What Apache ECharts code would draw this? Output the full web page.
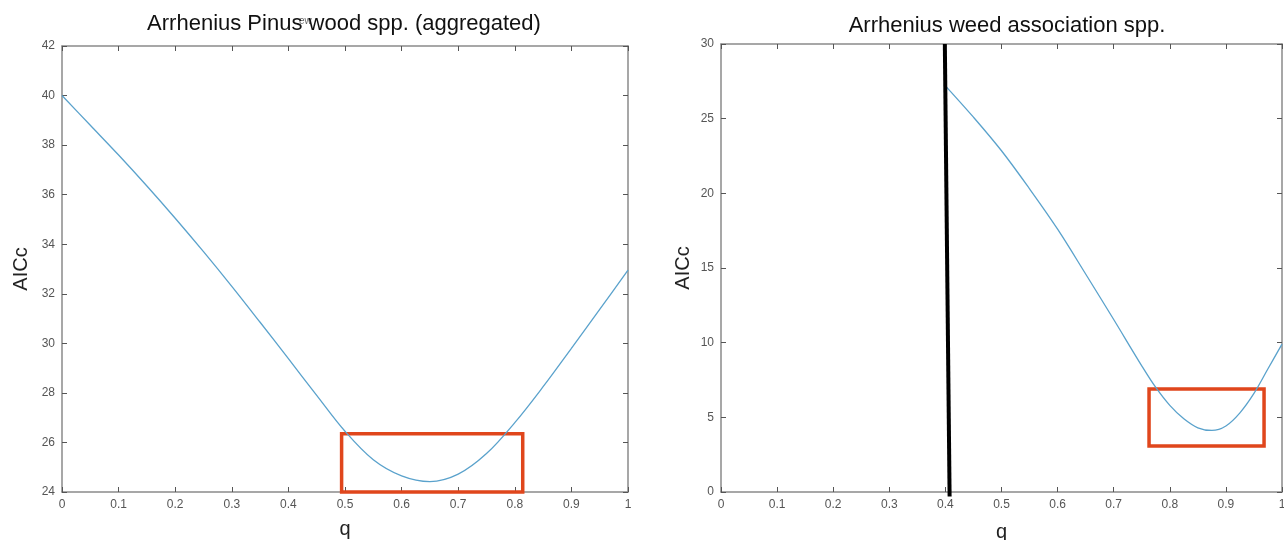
<!DOCTYPE html>
<html>
<head>
<meta charset="utf-8">
<script src="https://cdn.jsdelivr.net/npm/echarts@6/dist/echarts.min.js"></script>
<style>
html, body { margin: 0; padding: 0; background: #fff; }
#main { width: 1284px; height: 540px; }
</style>
</head>
<body>
<div id="main"></div>
<script>
// left panel: Pinus wood (aggregated)
var qLeft = [0, 0.05, 0.1, 0.15, 0.2, 0.25, 0.3, 0.35, 0.4, 0.45, 0.5, 0.55, 0.6, 0.65, 0.7, 0.75, 0.8, 0.85, 0.9, 0.95, 1.0];
var aiccLeft = [40.0, 38.8, 37.6, 36.35, 35.05, 33.7, 32.3, 30.85, 29.38, 27.9, 26.45, 25.3, 24.65, 24.42, 24.72, 25.55, 26.8, 28.25, 29.8, 31.37, 32.95];
// right panel: weed association
var qRight = [0.4, 0.45, 0.5, 0.55, 0.6, 0.65, 0.7, 0.75, 0.775, 0.8, 0.825, 0.85, 0.875, 0.9, 0.925, 0.95, 0.975, 1.0];
var aiccRight = [27.2, 25.1, 22.85, 20.3, 17.6, 14.6, 11.55, 8.45, 7.0, 5.8, 4.9, 4.3, 4.12, 4.42, 5.3, 6.6, 8.25, 9.9];
// highlighted boxes [q1, aicc1, q2, aicc2]
var boxLeft = [0.494, 26.35, 0.814, 23.98];
var boxRight = [0.763, 6.9, 0.968, 3.08];
// vertical cut line in right panel
var cutLine = [[0.399, 30], [0.4075, -0.3]];

var font = 'Liberation Sans, Arial, Helvetica, sans-serif';
var axisGray = '#8a8a8a';
var curveColor = '#5aa2cc';
var boxColor = '#e0461c';

function zip(xs, ys) {
    var out = [];
    for (var i = 0; i < xs.length; i++) out.push([xs[i], ys[i]]);
    return out;
}

function qLabel(v) {
    if (v === 0) return '0';
    if (v === 1) return '1';
    return v.toFixed(1);
}

function xAxisPair(grid, nameGap) {
    return [{
        type: 'value', gridIndex: grid, position: 'bottom', min: 0, max: 1, interval: 0.1,
        name: 'q', nameLocation: 'middle', nameGap: nameGap,
        nameTextStyle: { fontFamily: font, fontSize: 20, color: '#222' },
        axisLine: { onZero: false, lineStyle: { color: axisGray, width: 1.5 } },
        axisTick: { inside: true, length: 5, lineStyle: { color: '#555' } },
        axisLabel: { formatter: qLabel, fontFamily: font, fontSize: 12, color: '#555', margin: 7 },
        splitLine: { show: false }
    }, {
        type: 'value', gridIndex: grid, position: 'top', min: 0, max: 1, interval: 0.1,
        axisLine: { onZero: false, lineStyle: { color: axisGray, width: 1.5 } },
        axisTick: { inside: true, length: 5, lineStyle: { color: '#555' } },
        axisLabel: { show: false },
        splitLine: { show: false }
    }];
}

function yAxisPair(grid, min, max, step, nameGap) {
    return [{
        type: 'value', gridIndex: grid, position: 'left', min: min, max: max, interval: step,
        name: 'AICc', nameLocation: 'middle', nameGap: nameGap, nameRotate: 90,
        nameTextStyle: { fontFamily: font, fontSize: 20, color: '#222' },
        axisLine: { show: true, onZero: false, lineStyle: { color: axisGray, width: 1.5 } },
        axisTick: { show: true, inside: true, length: 5, lineStyle: { color: '#555' } },
        axisLabel: { fontFamily: font, fontSize: 12, color: '#555', margin: 7 },
        splitLine: { show: false }
    }, {
        type: 'value', gridIndex: grid, position: 'right', min: min, max: max, interval: step,
        axisLine: { show: true, onZero: false, lineStyle: { color: axisGray, width: 1.5 } },
        axisTick: { show: true, inside: true, length: 5, lineStyle: { color: '#555' } },
        axisLabel: { show: false },
        splitLine: { show: false }
    }];
}

function boxArea(b) {
    return {
        silent: true,
        itemStyle: { color: 'rgba(0,0,0,0)', borderColor: boxColor, borderWidth: 3.5 },
        data: [[{ coord: [b[0], b[1]] }, { coord: [b[2], b[3]] }]]
    };
}

var myChart = echarts.init(document.getElementById('main'));
var option = {
    backgroundColor: '#fff',
    animation: false,
    title: [{
        text: 'Arrhenius Pinus wood spp. (aggregated)', left: 339, top: 8, textAlign: 'center',
        textStyle: { fontFamily: font, fontSize: 22, fontWeight: 'normal', color: '#111' }
    }, {
        text: 'Arrhenius weed association spp.', left: 1002, top: 10, textAlign: 'center',
        textStyle: { fontFamily: font, fontSize: 22, fontWeight: 'normal', color: '#111' }
    }],
    graphic: [{
        type: 'text', left: 299, top: 16,
        style: { text: 'ew', font: '10px ' + font, fill: '#666' }
    }],
    grid: [
        { left: 62, top: 46, width: 566, height: 446, outerBoundsMode: 'none' },
        { left: 721, top: 44, width: 561, height: 448, outerBoundsMode: 'none' }
    ],
    xAxis: xAxisPair(0, 27).concat(xAxisPair(1, 30)),
    yAxis: yAxisPair(0, 24, 42, 2, 31).concat(yAxisPair(1, 0, 30, 5, 28)),
    series: [{
        type: 'line', xAxisIndex: 0, yAxisIndex: 0, data: zip(qLeft, aiccLeft),
        smooth: 0.35, showSymbol: false, clip: false,
        lineStyle: { color: curveColor, width: 1.3 },
        markArea: boxArea(boxLeft)
    }, {
        type: 'line', xAxisIndex: 2, yAxisIndex: 2, data: zip(qRight, aiccRight),
        smooth: 0.35, showSymbol: false, clip: false,
        lineStyle: { color: curveColor, width: 1.3 },
        markArea: boxArea(boxRight)
    }, {
        type: 'line', xAxisIndex: 2, yAxisIndex: 2, data: cutLine,
        showSymbol: false, clip: false,
        lineStyle: { color: '#000', width: 4 }
    }]
};
myChart.setOption(option);
</script>
</body>
</html>
